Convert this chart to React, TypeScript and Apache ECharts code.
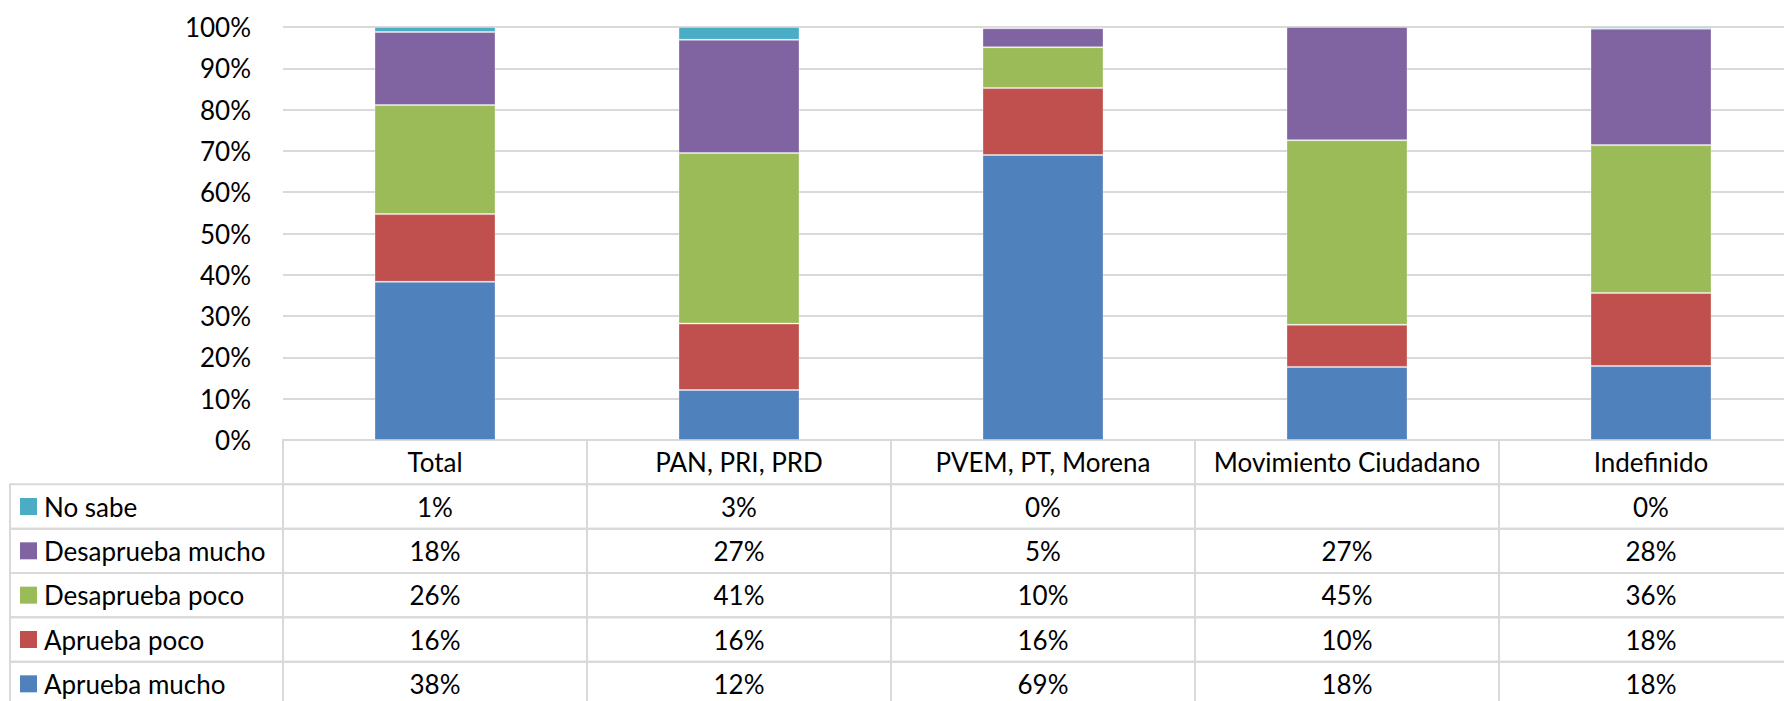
import React, { useEffect, useRef } from "react";
import * as echarts from "echarts";

const categories = ["Total", "PAN, PRI, PRD", "PVEM, PT, Morena", "Movimiento Ciudadano", "Indefinido"];
const seriesNames = ["Aprueba mucho", "Aprueba poco", "Desaprueba poco", "Desaprueba mucho", "No sabe"];
const seriesColors = ["#4F81BD", "#C0504D", "#9BBB59", "#8064A2", "#4BACC6"];
const apruebaMucho = [38.3, 12.1, 69.0, 17.7, 17.9];
const apruebaPoco = [16.4, 16.1, 16.2, 10.2, 17.7];
const desapruebaPoco = [26.4, 41.3, 9.9, 44.7, 35.8];
const desapruebaMucho = [17.7, 27.4, 4.6, 27.4, 28.2];
const noSabe = [1.2, 3.1, 0.3, null, 0.4];
const yTicks = { min: 0, max: 100, interval: 10 };

const seriesValues = [apruebaMucho, apruebaPoco, desapruebaPoco, desapruebaMucho, noSabe];

const FONT = "Lato, 'Noto Sans', sans-serif";
const GRID_COLOR = "#D9D9D9";

export default function App() {
  const ref = useRef<HTMLDivElement>(null);
  useEffect(() => {
    if (!ref.current) return;
    const chart = echarts.init(ref.current, null, { renderer: "svg" });

    // table rows: row 0 header, rows 1..5 series from top (No sabe) to bottom (Aprueba mucho)
    const rowLabels = ["header", ...seriesNames.slice().reverse()];
    const tableData: number[][] = [];
    categories.forEach((_, c) => tableData.push([c, 0, 0, -1]));
    for (let r = 1; r <= 5; r++) {
      const s = 5 - r; // series index
      tableData.push([0, r, 2, s]);
      categories.forEach((_, c) => tableData.push([c, r, 1, s]));
    }

    const renderItem = (params: any, api: any) => {
      const c = api.value(0);
      const r = api.value(1);
      const kind = api.value(2);
      const s = api.value(3);
      const pt = api.coord([c, r]);
      const size = api.size([1, 1]);
      const w = size[0];
      const h = size[1];
      const cs = params.coordSys;
      const cx = pt[0];
      const cy = pt[1];
      if (kind === 2) {
        const x0 = 10;
        const x1 = cs.x;
        return {
          type: "group",
          children: [
            { type: "rect", shape: { x: x0, y: cy - h / 2, width: x1 - x0, height: h }, style: { fill: "none", stroke: GRID_COLOR, lineWidth: 2 } },
            { type: "rect", shape: { x: x0 + 10, y: cy - 8.5, width: 17, height: 17 }, style: { fill: seriesColors[s] } },
            { type: "text", style: { text: seriesNames[s], x: x0 + 34, y: cy, align: "left", verticalAlign: "middle", fontSize: 26, fontFamily: FONT, fill: "#000" } },
          ],
        };
      }
      let text = "";
      if (kind === 0) text = categories[c];
      else {
        const v = seriesValues[s][c];
        text = v === null || v === undefined ? "" : Math.round(v as number) + "%";
      }
      return {
        type: "group",
        children: [
          { type: "rect", shape: { x: cx - w / 2, y: cy - h / 2, width: w, height: h }, style: { fill: "none", stroke: GRID_COLOR, lineWidth: 2 } },
          { type: "text", style: { text, x: cx, y: cy, align: "center", verticalAlign: "middle", fontSize: 26, fontFamily: FONT, fill: "#000" } },
        ],
      };
    };

    const option: any = {
      animation: false,
      backgroundColor: "#fff",
      grid: [
        { left: 283, top: 27, width: 1520, height: 413 },
        { left: 283, top: 440, width: 1520, height: 266 },
      ],
      xAxis: [
        { type: "category", data: categories, gridIndex: 0, axisLabel: { show: false }, axisLine: { show: false }, axisTick: { show: false } },
        { type: "category", data: categories, gridIndex: 1, show: false },
      ],
      yAxis: [
        {
          type: "value",
          gridIndex: 0,
          min: yTicks.min,
          max: yTicks.max,
          interval: yTicks.interval,
          axisLabel: { formatter: "{value}%", margin: 32, fontSize: 26, fontFamily: FONT, color: "#000" },
          axisLine: { show: false },
          axisTick: { show: false },
          splitLine: { lineStyle: { color: GRID_COLOR, width: 2 } },
        },
        { type: "category", data: rowLabels, gridIndex: 1, inverse: true, show: false },
      ],
      series: [
        ...seriesNames.map((name, i) => ({
          name,
          type: "bar",
          stack: "total",
          xAxisIndex: 0,
          yAxisIndex: 0,
          barWidth: 121,
          data: seriesValues[i],
          itemStyle: { color: seriesColors[i], borderColor: "rgba(255,255,255,0.3)", borderWidth: 1 },
        })),
        {
          type: "custom",
          xAxisIndex: 1,
          yAxisIndex: 1,
          renderItem,
          data: tableData,
          clip: false,
        },
      ],
    };
    chart.setOption(option);
    return () => chart.dispose();
  }, []);

  return (
    <div style={{ position: "fixed", left: 0, top: 0, width: 1784, height: 701, overflow: "hidden", background: "#fff" }}>
      <div ref={ref} style={{ width: 1810, height: 710 }} />
    </div>
  );
}
